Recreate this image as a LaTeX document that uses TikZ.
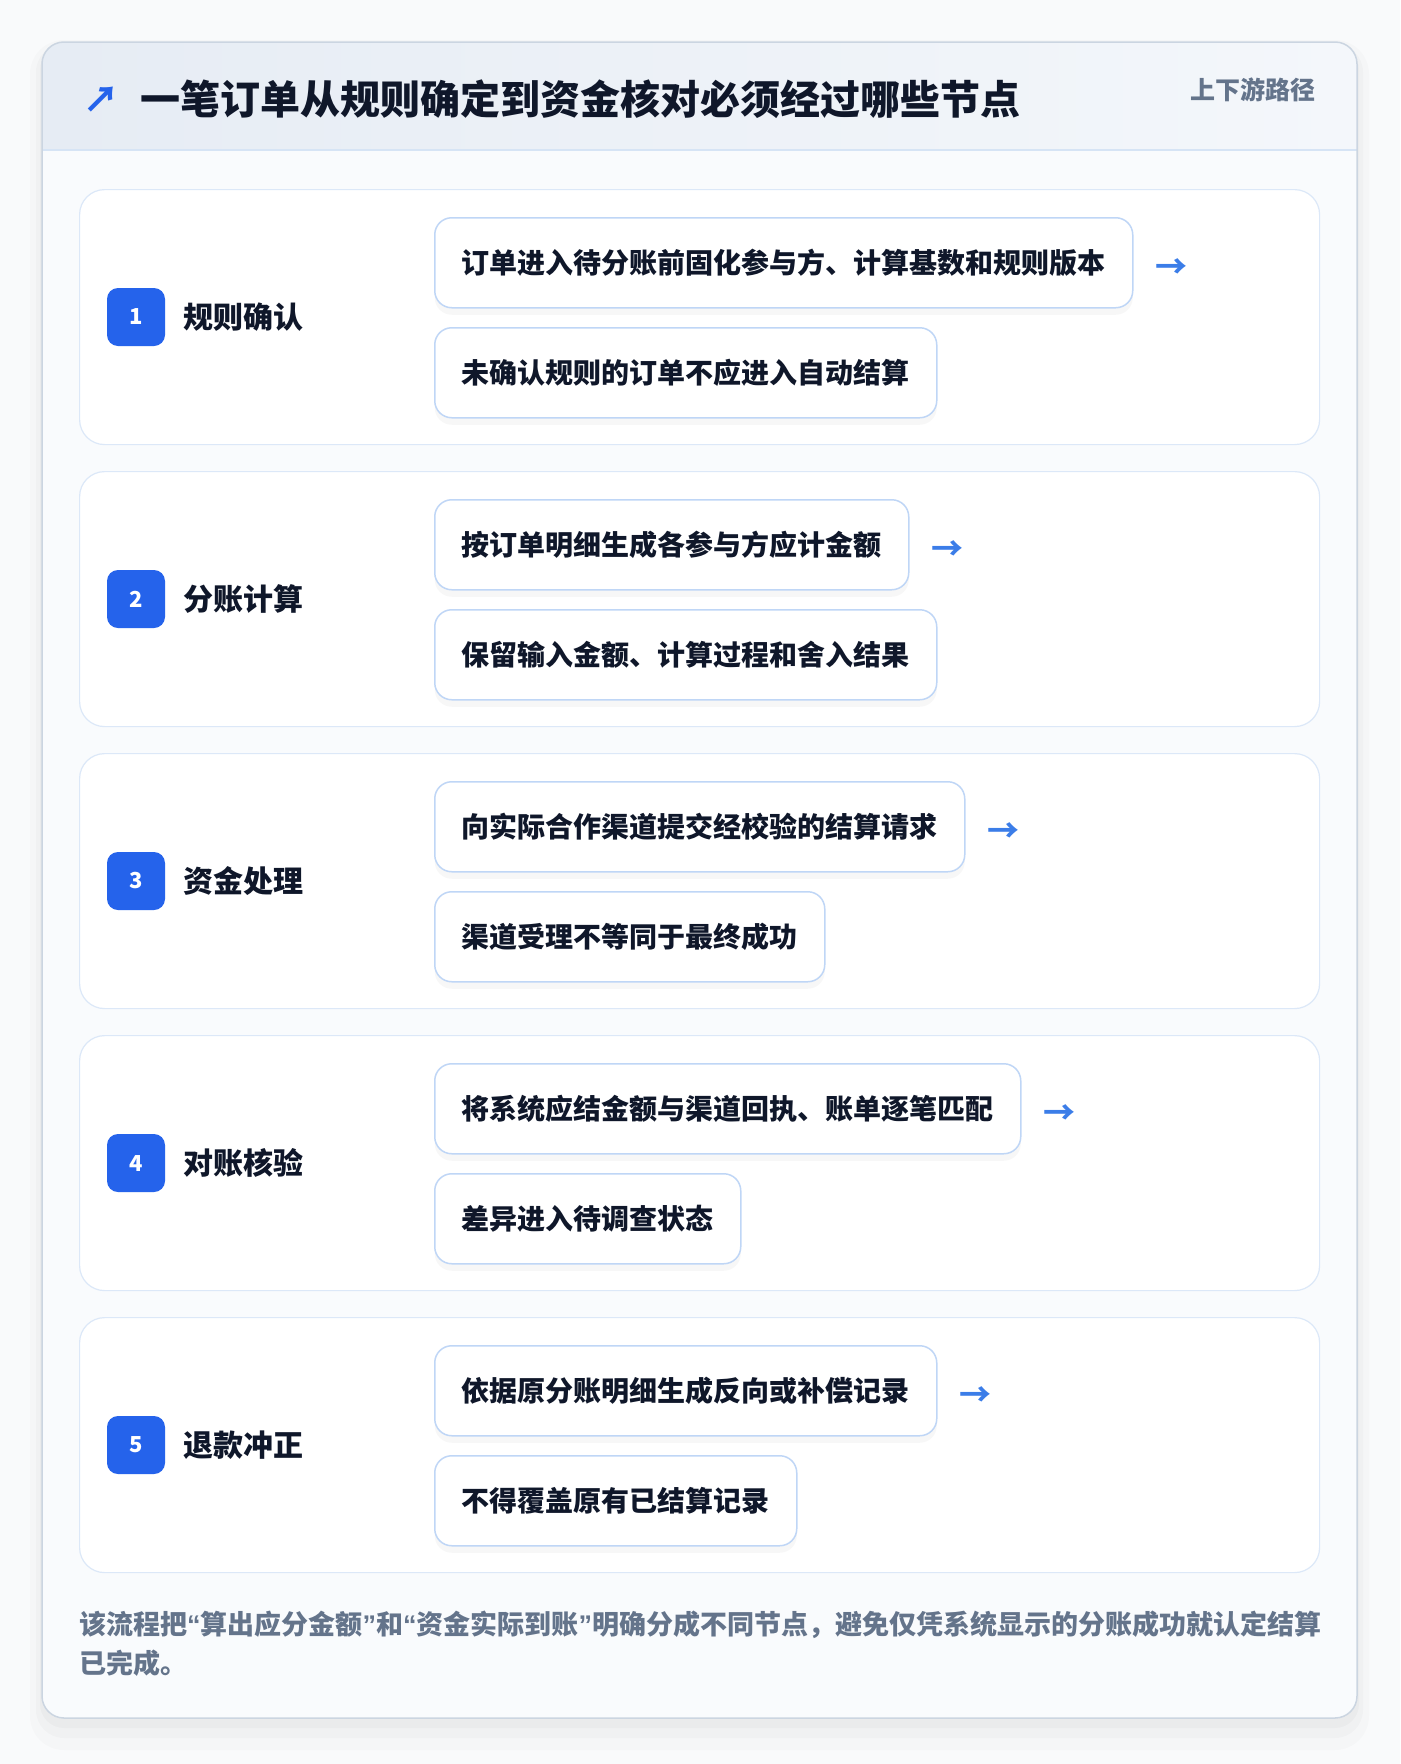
\documentclass[tikz,border=0pt]{standalone}
\usepackage{fontspec}
\setmainfont{Noto Sans CJK SC}
\newfontfamily\quotefont{Liberation Sans}
\usepackage{xcolor}
\usepackage{tikz}
\usetikzlibrary{positioning}
\usetikzlibrary{shadows}
\tikzset{>=latex}
\definecolor{pagebg}{HTML}{F9FAFB}
\definecolor{cardbg}{HTML}{F9FBFD}
\definecolor{cardline}{HTML}{CBD5E1}
\definecolor{hdrL}{HTML}{E6ECF4}
\definecolor{hdrR}{HTML}{F4F7FB}
\definecolor{hdrline}{HTML}{D6E4F5}
\definecolor{secline}{HTML}{DCE8F8}
\definecolor{itemline}{HTML}{BFD6F6}
\definecolor{badgeblue}{HTML}{2563EB}
\definecolor{arrowblue}{HTML}{3B7DE8}
\definecolor{ink}{HTML}{0F172A}
\definecolor{muted}{HTML}{64748B}
\newcommand{\oq}{{\quotefont\bfseries “}}
\newcommand{\cq}{{\quotefont\bfseries ”}}
\tikzstyle{section} = [draw=secline, fill=white, line width=1.2pt, rounded corners=25pt, minimum width=1240pt, minimum height=255pt, anchor=north west, inner sep=0pt]
\tikzstyle{badge} = [fill=badgeblue, rounded corners=11pt, minimum size=58pt, inner sep=0pt, text=white, font=\fontsize{22}{22}\selectfont\bfseries]
\tikzstyle{steplabel} = [anchor=west, inner sep=0pt, text=ink, font=\fontsize{30}{30}\selectfont\bfseries]
\tikzstyle{item} = [draw=itemline, fill=white, line width=1.5pt, rounded corners=17pt, minimum height=90pt, inner xsep=27pt, anchor=north west, text=ink, font=\fontsize{28}{28}\selectfont\bfseries, drop shadow={opacity=0.06, shadow xshift=0pt, shadow yshift=-7pt}]
\tikzstyle{nextarrow} = [inner sep=0pt, text=arrowblue, font=\fontsize{32}{32}\selectfont\bfseries]

\begin{document}
\begin{tikzpicture}[x=1pt, y=-1pt]
\useasboundingbox (0, 0) rectangle (1400, 1764);
\fill [pagebg] (0, 0) rectangle (1400, 1764);
% card with soft shadow
\fill [black, opacity=0.015, rounded corners=34pt] (30, 40) rectangle (1369, 1750);
\fill [black, opacity=0.02, rounded corners=28pt] (36, 44) rectangle (1363, 1738);
\fill [black, opacity=0.025, rounded corners=24pt] (40, 46) rectangle (1359, 1728);
\fill [cardbg, rounded corners=22pt] (42, 42) rectangle (1357, 1718);
\begin{scope}
\clip [rounded corners=22pt] (42, 42) rectangle (1357, 1718);
\shade [left color=hdrL, right color=hdrR] (42, 42) rectangle (1357, 150);
\end{scope}
\draw [hdrline, line width=1.5pt] (42, 150) -- (1357, 150);
\draw [cardline, line width=1.5pt, rounded corners=22pt] (42, 42) rectangle (1357, 1718);

% header
\node [text=badgeblue, inner sep=0pt, font=\fontsize{36}{36}\selectfont\bfseries] (icon) at (101, 100) {↗};
\node [anchor=west, inner sep=0pt, text=ink, font=\fontsize{40}{40}\selectfont\bfseries] (title) at (140, 99) {一笔订单从规则确定到资金核对必须经过哪些节点};
\node [anchor=east, inner sep=0pt, text=muted, font=\fontsize{25}{25}\selectfont\bfseries] (scope) at (1316, 90) {上下游路径};

% step 1
\node [section] (S1) at (79, 189) {};
\node [badge] (B1) at (136, 317) {1};
\node [steplabel] (L1) at (183, 317) {规则确认};
\node [item] (I11) at (434, 217) {订单进入待分账前固化参与方、计算基数和规则版本};
\node [item] (I12) at (434, 327) {未确认规则的订单不应进入自动结算};
\node [nextarrow, right=22pt of I11, yshift=-6pt] (A1) {→};

% step 2
\node [section] (S2) at (79, 471) {};
\node [badge] (B2) at (136, 599) {2};
\node [steplabel] (L2) at (183, 599) {分账计算};
\node [item] (I21) at (434, 499) {按订单明细生成各参与方应计金额};
\node [item] (I22) at (434, 609) {保留输入金额、计算过程和舍入结果};
\node [nextarrow, right=22pt of I21, yshift=-6pt] (A2) {→};

% step 3
\node [section] (S3) at (79, 753) {};
\node [badge] (B3) at (136, 881) {3};
\node [steplabel] (L3) at (183, 881) {资金处理};
\node [item] (I31) at (434, 781) {向实际合作渠道提交经校验的结算请求};
\node [item] (I32) at (434, 891) {渠道受理不等同于最终成功};
\node [nextarrow, right=22pt of I31, yshift=-6pt] (A3) {→};

% step 4
\node [section] (S4) at (79, 1035) {};
\node [badge] (B4) at (136, 1163) {4};
\node [steplabel] (L4) at (183, 1163) {对账核验};
\node [item] (I41) at (434, 1063) {将系统应结金额与渠道回执、账单逐笔匹配};
\node [item] (I42) at (434, 1173) {差异进入待调查状态};
\node [nextarrow, right=22pt of I41, yshift=-6pt] (A4) {→};

% step 5
\node [section] (S5) at (79, 1317) {};
\node [badge] (B5) at (136, 1445) {5};
\node [steplabel] (L5) at (183, 1445) {退款冲正};
\node [item] (I51) at (434, 1345) {依据原分账明细生成反向或补偿记录};
\node [item] (I52) at (434, 1455) {不得覆盖原有已结算记录};
\node [nextarrow, right=22pt of I51, yshift=-6pt] (A5) {→};

% note
\node [anchor=north west, inner sep=0pt, align=left, text=muted, font=\fontsize{27}{39}\selectfont\bfseries] (note) at (79, 1611) {该流程把\oq 算出应分金额\cq 和\oq 资金实际到账\cq 明确分成不同节点，避免仅凭系统显示的分账成功就认定结算\\已完成。};
\end{tikzpicture}
\end{document}
